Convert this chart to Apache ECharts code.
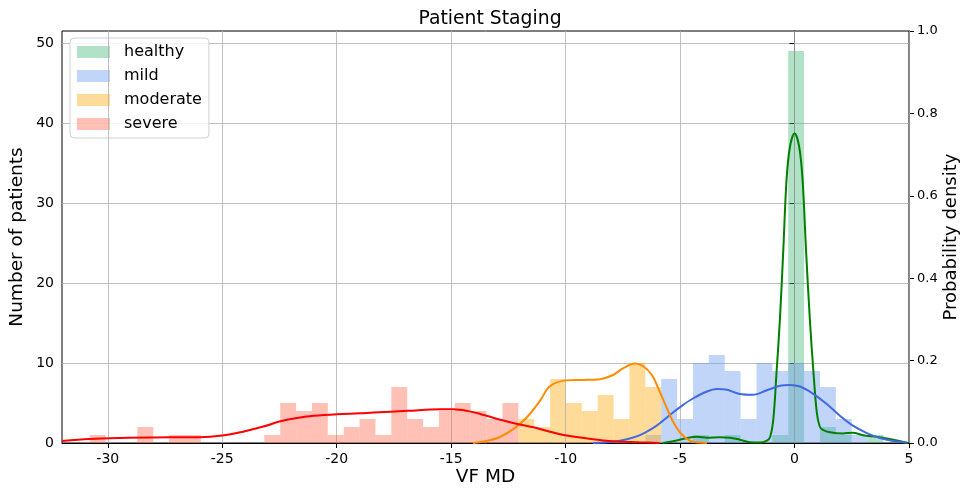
<!DOCTYPE html>
<html><head><meta charset="utf-8">
<script src="https://cdn.jsdelivr.net/npm/echarts@6/dist/echarts.min.js"></script>
<style>html,body{margin:0;padding:0;background:#fff}#c{width:960px;height:490px}</style>
</head><body><div id="c"></div>
<script>
const groups = ['healthy', 'mild', 'moderate', 'severe'];
const binStart = -30.79;
const binWidth = 0.6935;
const xTicks = [-30, -25, -20, -15, -10, -5, 0, 5];
const yTicks = [0, 10, 20, 30, 40, 50];

const severeCounts = [
  1,0,0,2,0,1,1,0,0,0,
  0,1,5,4,5,1,2,3,1,7,
  3,2,4,5,4,3,5,0,0,0,
  0,0,0,0,0,0,0,0,0,0,
  0,0,0,0,0,0,0,0,0,0];
const moderateCounts = [
  0,0,0,0,0,0,0,0,0,0,
  0,0,0,0,0,0,0,0,0,0,
  0,0,0,0,0,0,0,3,2,8,
  5,4,6,3,10,7,0,0,0,0,
  0,0,0,0,0,0,0,0,0,0];
const mildCounts = [
  0,0,0,0,0,0,0,0,0,0,
  0,0,0,0,0,0,0,0,0,0,
  0,0,0,0,0,0,0,0,0,0,
  0,0,0,0,0,1,8,3,10,11,
  9,3,10,9,10,9,7,3,1,0];
const healthyCounts = [
  0,0,0,0,0,0,0,0,0,0,
  0,0,0,0,0,0,0,0,0,0,
  0,0,0,0,0,0,0,0,0,0,
  0,0,0,0,0,0,0,0,1,0,
  1,0,0,1,49,0,2,1,0,1];

// KDE curves: [VF MD, density]
const severeKde = [[-32.0,0.005],[-30.8,0.0097],[-29.5,0.012],[-27.3,0.014],[-26.0,0.014],[-25.0,0.018],[-24.1,0.0275],[-23.2,0.040],[-22.5,0.052],[-21.8,0.060],[-21.0,0.066],[-20.0,0.070],[-19.0,0.072],[-18.4,0.074],[-16.9,0.078],[-15.5,0.082],[-14.9,0.082],[-14.3,0.078],[-13.7,0.070],[-13.2,0.062],[-12.6,0.053],[-12.0,0.045],[-11.4,0.038],[-10.8,0.029],[-9.95,0.018],[-8.9,0.0097],[-7.9,0.004],[-6.8,0.0016],[-5.9,0.0]];
const moderateKde = [[-14.05,0],[-13.45,0.005],[-12.9,0.014],[-12.3,0.033],[-11.7,0.062],[-11.1,0.104],[-10.7,0.137],[-9.99,0.152],[-9.25,0.153],[-8.5,0.155],[-7.93,0.165],[-7.5,0.181],[-6.97,0.193],[-6.62,0.187],[-6.23,0.165],[-5.97,0.135],[-5.66,0.095],[-5.31,0.052],[-5.0,0.025],[-4.7,0.010],[-4.44,0.003],[-3.83,0]];
const mildKde = [[-8.8,0],[-7.93,0.003],[-7.32,0.009],[-6.75,0.019],[-6.19,0.036],[-5.84,0.050],[-5.31,0.074],[-4.88,0.092],[-4.44,0.108],[-3.83,0.125],[-3.39,0.131],[-2.95,0.129],[-2.39,0.119],[-1.82,0.117],[-1.21,0.128],[-0.64,0.139],[-0.2,0.141],[0.24,0.137],[0.8,0.120],[1.42,0.094],[1.98,0.066],[2.55,0.042],[3.16,0.024],[3.73,0.012],[4.3,0.005],[4.9,0.001]];
const healthyKde = [[-5.75,0],[-5.31,0.004],[-4.7,0.012],[-4.26,0.015],[-3.83,0.013],[-3.26,0.014],[-2.82,0.013],[-2.39,0.008],[-1.95,0.002],[-1.51,0.001],[-1.21,0.006],[-1.07,0.014],[-0.93,0.056],[-0.78,0.177],[-0.64,0.299],[-0.49,0.47],[-0.35,0.638],[-0.2,0.719],[0,0.752],[0.2,0.72],[0.35,0.64],[0.5,0.47],[0.67,0.299],[0.82,0.177],[0.97,0.075],[1.1,0.04],[1.24,0.032],[1.55,0.026],[2.1,0.023],[2.55,0.025],[2.99,0.019],[3.6,0.015],[4.03,0.011],[4.47,0.006],[4.95,0.0]];

const fillColors = ['rgba(60,179,113,0.4)', 'rgba(100,149,237,0.4)', 'rgba(255,165,0,0.4)', 'rgba(255,99,71,0.4)'];
const lineColors = ['#008000', '#4169e1', '#ff8c00', '#ff0000'];
const countsList = [healthyCounts, mildCounts, moderateCounts, severeCounts];
const kdeList = [healthyKde, mildKde, moderateKde, severeKde];

const FONT = 'DejaVu Sans';

function histSeries(name, counts, color, z) {
  const data = [];
  counts.forEach((c, i) => {
    if (c > 0) data.push([binStart + i * binWidth, binStart + (i + 1) * binWidth, c]);
  });
  return {
    type: 'custom', name, xAxisIndex: 0, yAxisIndex: 0, z,
    itemStyle: { color }, encode: { x: [0, 1], y: 2 },
    renderItem(params, api) {
      const p0 = api.coord([api.value(0), 0]);
      const p1 = api.coord([api.value(1), api.value(2)]);
      return { type: 'rect', shape: { x: p0[0], y: p1[1], width: p1[0] - p0[0], height: p0[1] - p1[1] }, style: api.style() };
    },
    data
  };
}

const series = [];
series.push({
  type: 'line', data: [], xAxisIndex: 0, yAxisIndex: 0, z: 1, silent: true,
  markLine: { silent: true, symbol: ['none', 'none'], label: { show: false },
    lineStyle: { color: '#b0b0b0', width: 0.8, type: 'solid' },
    data: xTicks.map(v => ({ xAxis: v })) }
});
groups.forEach((g, i) => series.push(histSeries(g, countsList[i], fillColors[i], 2 + i)));
groups.forEach((g, i) => series.push({
  type: 'line', name: g + ' kde', xAxisIndex: 0, yAxisIndex: 1, z: 10,
  showSymbol: false, smooth: 0.35, data: kdeList[i],
  lineStyle: { color: lineColors[i], width: 2 }, itemStyle: { color: lineColors[i] }
}));

const chart = echarts.init(document.getElementById('c'), null, { renderer: 'canvas' });
chart.setOption({
  animation: false,
  backgroundColor: '#fff',
  textStyle: { fontFamily: FONT },
  title: { text: 'Patient Staging', left: 485, textAlign: 'center', top: 5,
    textStyle: { fontFamily: FONT, fontSize: 18.8, fontWeight: 'normal', color: '#000' } },
  grid: { left: 62, right: 51, top: 31, bottom: 47, containLabel: false, outerBoundsMode: 'none',
    show: true, borderColor: '#000', borderWidth: 1, backgroundColor: 'transparent' },
  legend: {
    data: groups, orient: 'vertical', left: 70, top: 38,
    icon: 'rect', itemWidth: 33, itemHeight: 12, itemGap: 8,
    padding: [6, 7, 6, 7], borderColor: '#d0d0d0', borderWidth: 1, borderRadius: 4,
    backgroundColor: 'rgba(255,255,255,0.8)',
    textStyle: { fontFamily: FONT, fontSize: 16, color: '#000', lineHeight: 16, padding: [0, 0, 0, 9] }
  },
  xAxis: {
    type: 'value', min: -32, max: 5,
    name: 'VF MD', nameLocation: 'middle', nameGap: 25, nameMoveOverlap: false,
    nameTextStyle: { fontFamily: FONT, fontSize: 18.5, color: '#000' },
    axisLine: { show: true, lineStyle: { color: '#000', width: 1 } },
    axisTick: { show: true, customValues: xTicks, length: 5, lineStyle: { color: '#000' } },
    axisLabel: { customValues: xTicks, fontFamily: FONT, fontSize: 14, color: '#000', margin: 9 },
    splitLine: { show: false }
  },
  yAxis: [{
    type: 'value', min: 0, max: 51.5, interval: 10, position: 'left',
    name: 'Number of patients', nameLocation: 'middle', nameGap: 35, nameMoveOverlap: false,
    nameTextStyle: { fontFamily: FONT, fontSize: 18.5, color: '#000' },
    axisLine: { show: true, lineStyle: { color: '#000', width: 1 } },
    axisTick: { show: true, customValues: yTicks, length: 5, lineStyle: { color: '#000' } },
    axisLabel: { customValues: yTicks, fontFamily: FONT, fontSize: 14, color: '#000', margin: 8 },
    splitLine: { show: true, lineStyle: { color: '#b0b0b0', width: 0.8 } }
  }, {
    type: 'value', min: 0, max: 1, interval: 0.2, position: 'right',
    name: 'Probability density', nameLocation: 'middle', nameGap: 33, nameMoveOverlap: false,
    nameTextStyle: { fontFamily: FONT, fontSize: 18, color: '#000' },
    axisLine: { show: true, lineStyle: { color: '#000', width: 1 } },
    axisTick: { show: true, length: 5, lineStyle: { color: '#000' } },
    axisLabel: { formatter: v => v.toFixed(1), fontFamily: FONT, fontSize: 13, color: '#000', margin: 8 },
    splitLine: { show: false }
  }],
  series
});
</script></body></html>
